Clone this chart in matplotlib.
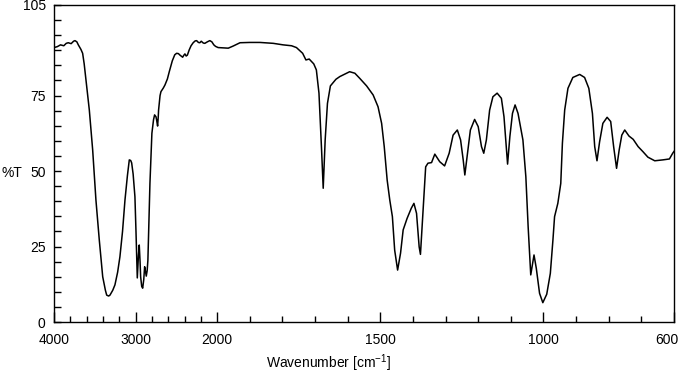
import numpy as np
import matplotlib
matplotlib.use('Agg')
import matplotlib.pyplot as plt
import matplotlib.transforms as mtransforms
from matplotlib.ticker import FixedLocator, NullFormatter

plt.rcParams['font.family'] = ['Liberation Sans', 'DejaVu Sans']
plt.rcParams['mathtext.fontset'] = 'custom'
plt.rcParams['mathtext.rm'] = 'Liberation Sans'
plt.rcParams['mathtext.it'] = 'Liberation Sans'

# spectrum (wavenumber cm-1, %T)
wavenumber = [
    4000, 3960, 3920, 3880, 3850, 3825, 3790, 3760, 3743, 3720, 3702, 3670,
    3649, 3630, 3608, 3567, 3526, 3486, 3445, 3403, 3370, 3354, 3330, 3314,
    3280, 3253, 3220, 3192, 3160, 3130, 3100, 3077, 3060, 3048, 3030, 3008,
    2995, 2979, 2965, 2955, 2945, 2938, 2925, 2913, 2900, 2889, 2880, 2869,
    2858, 2849, 2835, 2824, 2800, 2780, 2767, 2750, 2742, 2730, 2722, 2718,
    2700, 2689, 2660, 2640, 2610, 2587, 2550, 2520, 2497, 2475, 2456, 2423,
    2410, 2395, 2380, 2365, 2343, 2320, 2294, 2270, 2252, 2230, 2212, 2195,
    2170, 2151, 2120, 2090, 2065, 2041, 2020, 1997, 1966, 1951, 1930, 1900,
    1869, 1828, 1798, 1772, 1757, 1738, 1728, 1718, 1704, 1696, 1688, 1680,
    1675, 1669, 1662, 1653, 1636, 1624, 1609, 1594, 1578, 1563, 1542, 1522,
    1507, 1496, 1488, 1479, 1471, 1463, 1456, 1447, 1438, 1430, 1418, 1405,
    1397, 1389, 1381, 1377, 1369, 1361, 1354, 1343, 1333, 1318, 1303, 1289,
    1277, 1264, 1254, 1246, 1241, 1234, 1224, 1211, 1200, 1190, 1183, 1175,
    1165, 1155, 1142, 1129, 1121, 1110, 1103, 1095, 1087, 1078, 1063, 1054,
    1047, 1039, 1029, 1022, 1012, 1002, 990, 979, 971, 966, 956, 947,
    942, 935, 925, 910, 889, 874, 861, 850, 843, 836, 828, 818,
    805, 794, 785, 776, 768, 760, 751, 738, 725, 710, 695, 680,
    659, 634, 614, 604, 600,
]
transmittance = [
    90.9, 91.2, 91.8, 91.5, 92.3, 92.5, 92.2, 93.0, 93.2, 92.8, 91.8, 90.3,
    89.0, 85.5, 80.2, 70.2, 57.0, 40.4, 27.2, 15.0, 10.5, 8.9, 8.6, 8.9,
    10.5, 12.3, 16.5, 21.6, 30.0, 40.4, 48.5, 53.7, 53.5, 52.7, 49.0, 41.5,
    30.0, 14.6, 22.0, 25.5, 20.0, 15.0, 11.8, 11.2, 14.0, 18.3, 17.0, 15.2,
    17.0, 20.5, 35.0, 45.9, 62.5, 67.0, 68.6, 68.0, 66.9, 64.9, 68.0, 70.2,
    75.0, 76.3, 77.5, 78.5, 80.5, 82.9, 86.5, 88.5, 89.0, 88.9, 88.4, 87.7,
    88.3, 88.8, 88.1, 88.4, 90.1, 91.5, 92.5, 93.1, 93.2, 92.6, 92.5, 93.0,
    92.4, 92.3, 92.8, 93.2, 92.8, 91.8, 91.3, 90.9, 90.7, 91.4, 92.5, 92.6,
    92.6, 92.3, 91.8, 91.5, 90.9, 89.0, 86.8, 87.1, 85.5, 83.5, 75.8, 57.0,
    44.3, 60.3, 72.4, 78.2, 80.4, 81.3, 82.1, 82.9, 82.4, 80.7, 78.2, 75.2,
    71.3, 65.8, 58.1, 47.0, 40.4, 34.9, 23.8, 17.2, 22.8, 30.5, 34.3, 37.7,
    39.3, 36.0, 24.9, 22.4, 37.1, 51.4, 52.6, 52.8, 55.6, 53.1, 51.7, 55.9,
    61.9, 63.6, 60.3, 53.7, 48.7, 54.8, 63.6, 67.1, 64.7, 58.1, 55.9, 60.3,
    70.2, 74.6, 75.8, 74.1, 68.0, 52.3, 61.4, 69.1, 71.9, 69.1, 60.3, 48.1,
    31.6, 15.6, 22.2, 17.8, 9.5, 6.4, 9.2, 16.1, 27.2, 34.9, 39.3, 45.9,
    59.2, 70.2, 77.4, 81.0, 82.0, 81.0, 77.4, 69.1, 58.1, 53.4, 59.7, 65.8,
    67.8, 66.4, 58.1, 50.9, 57.0, 61.9, 63.6, 61.6, 60.5, 58.1, 56.4, 54.6,
    53.4, 53.7, 54.0, 55.9, 56.5,
]

x_major = [4000, 3000, 2000, 1500, 1000, 600]
x_minor = [3800, 3600, 3400, 3200, 2800, 2600, 2400, 2200,
           1900, 1800, 1700, 1600, 1400, 1300, 1200, 1100, 900, 800, 700]
y_major = [0, 25, 50, 75, 105]
y_minor = list(range(5, 105, 5))


# above 2000 cm-1 the axis is compressed 4x
def fwd(x):
    x = np.asarray(x, dtype=float)
    return np.where(x > 2000, 2000 + (x - 2000) / 4.0, x)


def inv(u):
    u = np.asarray(u, dtype=float)
    return np.where(u > 2000, 2000 + (u - 2000) * 4.0, u)


fig = plt.figure(figsize=(6.83, 3.75), dpi=100)
ax = fig.add_axes([54 / 683, 1 - 322 / 375, 620 / 683, 317 / 375])

ax.set_xscale('function', functions=(fwd, inv))
ax.plot(wavenumber, transmittance, color='black', lw=1.1)
ax.set_xlim(4000, 600)
ax.set_ylim(0, 105)

ax.xaxis.set_major_locator(FixedLocator(x_major))
ax.xaxis.set_minor_locator(FixedLocator(x_minor))
ax.xaxis.set_minor_formatter(NullFormatter())
ax.set_xticklabels([str(v) for v in x_major])
ax.yaxis.set_major_locator(FixedLocator(y_major))
ax.yaxis.set_minor_locator(FixedLocator(y_minor))
ax.yaxis.set_minor_formatter(NullFormatter())
ax.set_yticklabels([str(v) for v in y_major])

ax.tick_params(axis='x', which='major', direction='in', length=7, width=1, pad=8, labelsize=10)
ax.tick_params(axis='x', which='minor', direction='in', length=4.5, width=1)
ax.tick_params(axis='y', which='both', direction='in', length=5, width=1, pad=6, labelsize=10)
for s in ax.spines.values():
    s.set_linewidth(1)

# last label sits a bit left of its tick so it stays on the canvas
last = ax.get_xticklabels()[-1]
last.set_transform(last.get_transform() +
                   mtransforms.ScaledTranslation(-7 / 100, 0, fig.dpi_scale_trans))

fig.text(2 / 683, 1 - 173 / 375, '%T', ha='left', va='center', fontsize=10)
fig.text(329 / 683, 1 - 363 / 375, r'Wavenumber [cm$^{\mathrm{-1}}$]',
         ha='center', va='center', fontsize=10)

fig.savefig('out.png', dpi=100)
